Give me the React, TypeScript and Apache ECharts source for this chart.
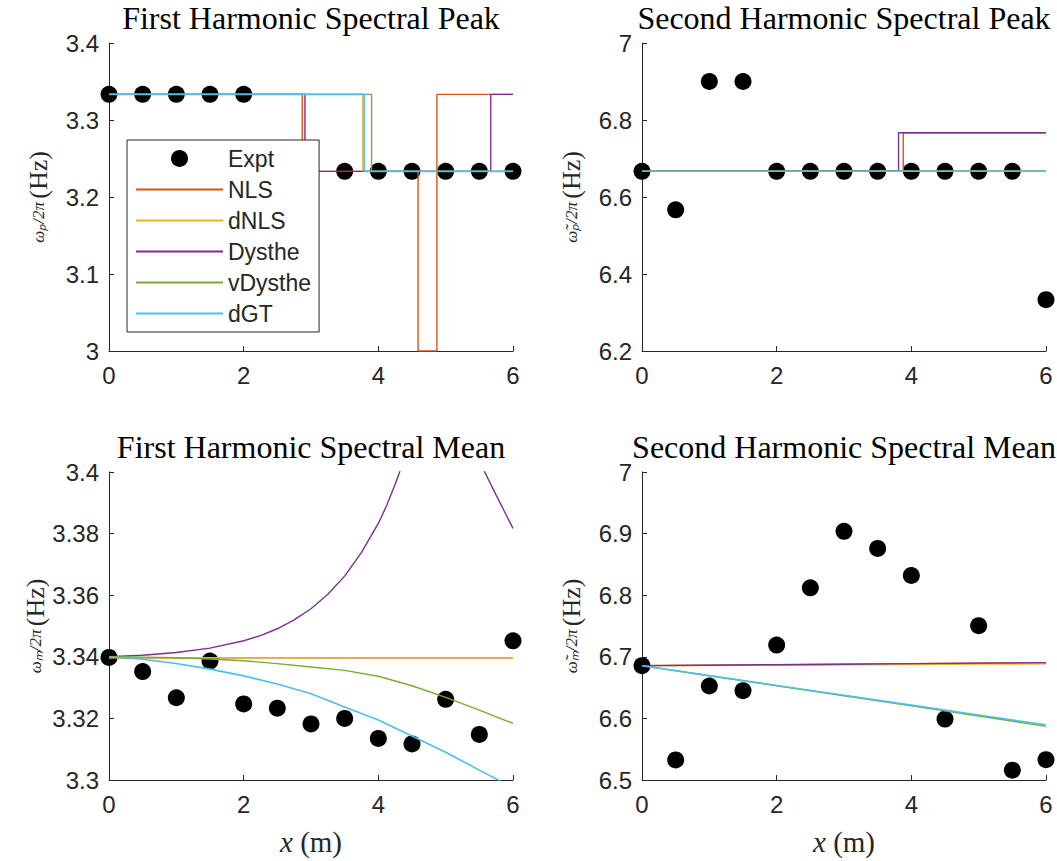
import React, { useEffect, useRef } from "react";
import * as echarts from "echarts";

// ---------- data ----------
const xExpt = [0, 0.5, 1, 1.5, 2, 2.5, 3, 3.5, 4, 4.5, 5, 5.5, 6];
const peak1Expt = [3.3333, 3.3333, 3.3333, 3.3333, 3.3333, null, null, 3.2333, 3.2333, 3.2333, 3.2333, 3.2333, 3.2333];
const peak2Expt = [6.6667, 6.5667, 6.9, 6.9, 6.6667, 6.6667, 6.6667, 6.6667, 6.6667, 6.6667, 6.6667, 6.6667, 6.3333];
const mean1Expt = [3.3398, 3.3352, 3.3267, 3.3386, 3.3247, 3.3233, 3.3182, 3.32, 3.3135, 3.3117, 3.3262, 3.3148, 3.3452];
const mean2Expt = [6.6856, 6.5325, 6.6526, 6.645, 6.719, 6.812, 6.9037, 6.876, 6.832, 6.599, 6.7505, 6.516, 6.533];

// step models, first harmonic peak (x of each jump, level after jump)
const peak1NlsX = [0, 2.87, 4.59, 4.87, 6];
const peak1NlsY = [3.3333, 3.2333, 3.0, 3.3333, 3.3333];
const peak1DnlsX = [0, 3.77, 6];
const peak1DnlsY = [3.3333, 3.2333, 3.2333];
const peak1DystheX = [0, 2.91, 5.67, 6];
const peak1DystheY = [3.3333, 3.2333, 3.3333, 3.3333];
const peak1VdystheX = [0, 3.9, 6];
const peak1VdystheY = [3.3333, 3.2333, 3.2333];
const peak1DgtX = [0, 3.79, 6];
const peak1DgtY = [3.3333, 3.2333, 3.2333];

// step models, second harmonic peak
const peak2NlsX = [0, 3.88, 6];
const peak2NlsY = [6.6667, 6.7667, 6.7667];
const peak2DnlsX = [0, 3, 6];
const peak2DnlsY = [6.6667, 6.6667, 6.6667];
const peak2DystheX = [0, 3.81, 6];
const peak2DystheY = [6.6667, 6.7667, 6.7667];
const peak2VdystheX = [0, 3, 6];
const peak2VdystheY = [6.6667, 6.6667, 6.6667];
const peak2DgtX = [0, 3, 6];
const peak2DgtY = [6.6667, 6.6667, 6.6667];

// first harmonic mean, model curves
const mean1X = [0, 0.5, 1, 1.5, 2, 2.5, 3, 3.5, 4, 4.5, 5, 5.5, 6];
const mean1Nls = [3.3397, 3.3397, 3.3397, 3.3397, 3.3397, 3.3397, 3.3397, 3.3397, 3.3397, 3.3397, 3.3397, 3.3397, 3.3397];
const mean1Dnls = [3.3397, 3.3397, 3.3397, 3.3397, 3.3397, 3.3397, 3.3397, 3.3397, 3.3397, 3.3397, 3.3397, 3.3397, 3.3397];
const mean1Vdysthe = [3.34, 3.3399, 3.3397, 3.3393, 3.3387, 3.3378, 3.3367, 3.3356, 3.3337, 3.3306, 3.3268, 3.3227, 3.3184];
const mean1Dgt = [3.34, 3.3392, 3.3378, 3.336, 3.3338, 3.3312, 3.328, 3.3237, 3.3195, 3.3143, 3.309, 3.3032, 3.2975];
const mean1DystheX = [0, 0.5, 1, 1.5, 2, 2.25, 2.5, 2.75, 3, 3.25, 3.5, 3.75, 4, 4.125, 4.25, 4.375, 4.5, 5, 5.5, 5.75, 6];
const mean1Dysthe = [3.34, 3.3405, 3.3414, 3.3428, 3.3452, 3.3469, 3.3491, 3.352, 3.3556, 3.3603, 3.3662, 3.3739, 3.3833, 3.3892, 3.396, 3.4035, 3.412, null, 3.4035, 3.3925, 3.3817];

// second harmonic mean, model curves
const mean2X = [0, 1, 2, 3, 4, 5, 6];
const mean2Nls = [6.6856, 6.6864, 6.6872, 6.688, 6.6887, 6.6895, 6.6903];
const mean2Dnls = [6.6856, 6.6861, 6.6866, 6.6871, 6.6876, 6.6881, 6.6886];
const mean2Dysthe = [6.6856, 6.6864, 6.6872, 6.688, 6.6889, 6.6897, 6.6905];
const mean2Vdysthe = [6.6856, 6.6693, 6.653, 6.6367, 6.6204, 6.604, 6.587];
const mean2Dgt = [6.6856, 6.6695, 6.6535, 6.6375, 6.6215, 6.6055, 6.5895];

const modelNames = ["NLS", "dNLS", "Dysthe", "vDysthe", "dGT"];
const modelColors = ["#D95319", "#EDB120", "#7E2F8E", "#77AC30", "#4DBEEE"];

const titles = [
  "First Harmonic Spectral Peak",
  "Second Harmonic Spectral Peak",
  "First Harmonic Spectral Mean",
  "Second Harmonic Spectral Mean",
];
const yLabels = ["ωₚ/2π", "ω̃ₚ/2π", "ωₘ/2π", "ω̃ₘ/2π"];
const yMin = [3, 6.2, 3.3, 6.5];
const yMax = [3.4, 7, 3.4, 7];
const yStep = [0.1, 0.2, 0.02, 0.1];

// ---------- layout ----------
const gridLeft = [109, 642, 109, 642];
const gridTop = [43, 43, 472, 472];
const gridW = 404;
const gridH = 308;

const sans = "'Liberation Sans', Arial, Helvetica, sans-serif";
const serif = "'Liberation Serif', 'Times New Roman', serif";
const axisColor = "#262626";

function pairs(xs: number[], ys: (number | null)[], keepNull = false) {
  const out: any[] = [];
  xs.forEach((x, i) => {
    const y = ys[i];
    if (y === null) {
      if (keepNull) out.push([x, null]);
    } else out.push([x, y]);
  });
  return out;
}

export default function App() {
  const ref = useRef<HTMLDivElement>(null);

  useEffect(() => {
    if (!ref.current) return;
    const chart = echarts.init(ref.current, undefined, { renderer: "svg" });

    const grid = [0, 1, 2, 3].map((i) => ({
      left: gridLeft[i],
      top: gridTop[i],
      width: gridW,
      height: gridH,
      containLabel: false,
    }));

    const xAxis = [0, 1, 2, 3].map((i) => ({
      type: "value",
      gridIndex: i,
      min: 0,
      max: 6,
      interval: 2,
      name: i >= 2 ? "{i|x} (m)" : "",
      nameLocation: "middle",
      nameGap: 47,
      nameTextStyle: {
        fontFamily: serif,
        fontSize: 29,
        color: axisColor,
        rich: { i: { fontFamily: serif, fontStyle: "italic", fontSize: 29, color: axisColor } },
      },
      axisLine: { show: true, onZero: false, lineStyle: { color: axisColor, width: 1 } },
      axisTick: { show: true, inside: true, length: 5, lineStyle: { color: axisColor } },
      axisLabel: { fontFamily: sans, fontSize: 24, color: axisColor, margin: 12 },
      splitLine: { show: false },
    }));

    const yAxis = [0, 1, 2, 3].map((i) => ({
      type: "value",
      gridIndex: i,
      min: yMin[i],
      max: yMax[i],
      interval: yStep[i],
      name: "{f|" + yLabels[i] + "} {h|(Hz)}",
      nameLocation: "middle",
      nameRotate: 90,
      nameGap: 58,
      nameTextStyle: {
        color: axisColor,
        rich: {
          f: { fontFamily: serif, fontStyle: "italic", fontSize: 17, color: axisColor },
          h: { fontFamily: serif, fontSize: 26, color: axisColor },
        },
      },
      axisLine: { show: true, onZero: false, lineStyle: { color: axisColor, width: 1 } },
      axisTick: { show: true, inside: true, length: 5, lineStyle: { color: axisColor } },
      axisLabel: {
        fontFamily: sans,
        fontSize: 24,
        color: axisColor,
        margin: 10,
        formatter: (v: number) => String(parseFloat(v.toFixed(4))),
      },
      splitLine: { show: false },
    }));

    const title = [0, 1, 2, 3].map((i) => ({
      text: titles[i],
      left: gridLeft[i] + gridW / 2,
      top: gridTop[i] - 41,
      textAlign: "center",
      textStyle: { fontFamily: serif, fontWeight: "normal", fontSize: 32, color: "#000" },
      padding: 0,
    }));

    const series: any[] = [];
    const exptData = [peak1Expt, peak2Expt, mean1Expt, mean2Expt];
    exptData.forEach((ys, i) => {
      series.push({
        type: "scatter",
        name: "Expt",
        xAxisIndex: i,
        yAxisIndex: i,
        data: pairs(xExpt, ys),
        symbol: "circle",
        symbolSize: 17,
        itemStyle: { color: "#000", opacity: 1 },
        z: 2,
      });
    });

    const lineSeries = (i: number, m: number, data: any[], opts: any = {}) => ({
      type: "line",
      name: modelNames[m],
      xAxisIndex: i,
      yAxisIndex: i,
      data,
      symbol: "none",
      showSymbol: false,
      connectNulls: false,
      clip: true,
      lineStyle: { color: modelColors[m], width: m === 4 ? 1.6 : 1.4 },
      itemStyle: { color: modelColors[m] },
      z: 3 + m,
      ...opts,
    });

    // Panel 0: first harmonic peak (steps)
    const p1 = [
      [peak1NlsX, peak1NlsY],
      [peak1DnlsX, peak1DnlsY],
      [peak1DystheX, peak1DystheY],
      [peak1VdystheX, peak1VdystheY],
      [peak1DgtX, peak1DgtY],
    ];
    p1.forEach(([xs, ys], m) => series.push(lineSeries(0, m, pairs(xs as number[], ys as number[]), { step: "end" })));

    // Panel 1: second harmonic peak (steps)
    const p2 = [
      [peak2NlsX, peak2NlsY],
      [peak2DnlsX, peak2DnlsY],
      [peak2DystheX, peak2DystheY],
      [peak2VdystheX, peak2VdystheY],
      [peak2DgtX, peak2DgtY],
    ];
    p2.forEach(([xs, ys], m) => series.push(lineSeries(1, m, pairs(xs as number[], ys as number[]), { step: "end" })));

    // Panel 2: first harmonic mean
    series.push(lineSeries(2, 0, pairs(mean1X, mean1Nls)));
    series.push(lineSeries(2, 1, pairs(mean1X, mean1Dnls)));
    series.push(lineSeries(2, 2, pairs(mean1DystheX, mean1Dysthe, true)));
    series.push(lineSeries(2, 3, pairs(mean1X, mean1Vdysthe)));
    series.push(lineSeries(2, 4, pairs(mean1X, mean1Dgt)));

    // Panel 3: second harmonic mean
    series.push(lineSeries(3, 0, pairs(mean2X, mean2Nls)));
    series.push(lineSeries(3, 1, pairs(mean2X, mean2Dnls)));
    series.push(lineSeries(3, 2, pairs(mean2X, mean2Dysthe)));
    series.push(lineSeries(3, 3, pairs(mean2X, mean2Vdysthe)));
    series.push(lineSeries(3, 4, pairs(mean2X, mean2Dgt)));

    const hideSymbol = { opacity: 0 };

    chart.setOption({
      animation: false,
      backgroundColor: "#fff",
      title,
      grid,
      xAxis,
      yAxis,
      legend: {
        z: 20,
        left: 127,
        top: 140,
        orient: "vertical",
        data: ["Expt", ...modelNames.map((n) => ({ name: n, itemStyle: hideSymbol }))],
        itemWidth: 87,
        itemHeight: 17,
        itemGap: 8,
        padding: [7, 8, 7, 8],
        borderColor: axisColor,
        borderWidth: 1,
        backgroundColor: "#fff",
        selectedMode: false,
        textStyle: { fontFamily: sans, fontSize: 23, color: axisColor, lineHeight: 23 },
      },
      series,
    });

    return () => chart.dispose();
  }, []);

  return (
    <div
      ref={ref}
      style={{ position: "absolute", left: 0, top: 0, width: 1057, height: 861, background: "#fff" }}
    />
  );
}
